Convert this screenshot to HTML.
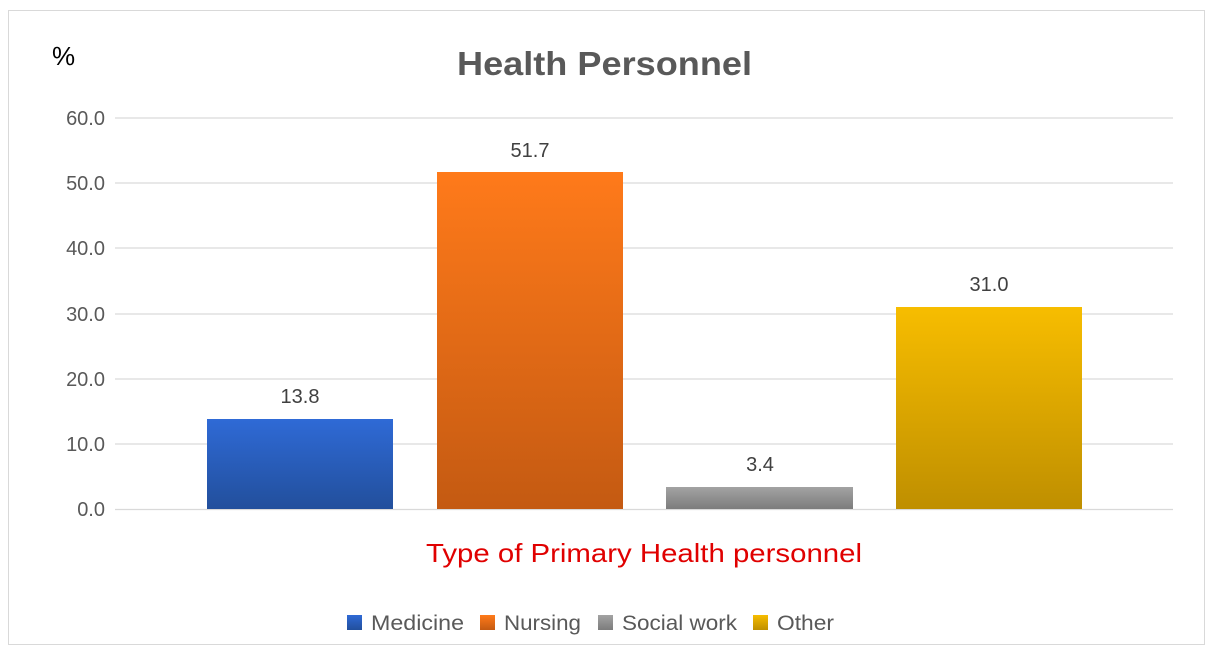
<!DOCTYPE html><html><head><style>body{margin:0;background:#fff}svg{display:block}text{font-family:"Liberation Sans",sans-serif}</style></head><body>
<svg width="1215" height="652" viewBox="0 0 1215 652">
<defs>
<linearGradient id="b" x1="0" y1="0" x2="0" y2="1"><stop offset="0" stop-color="#2f6ad6"/><stop offset="1" stop-color="#224f9c"/></linearGradient>
<linearGradient id="o" x1="0" y1="0" x2="0" y2="1"><stop offset="0" stop-color="#ff7a1a"/><stop offset="1" stop-color="#c45a12"/></linearGradient>
<linearGradient id="g" x1="0" y1="0" x2="0" y2="1"><stop offset="0" stop-color="#a3a3a3"/><stop offset="1" stop-color="#7c7c7c"/></linearGradient>
<linearGradient id="y" x1="0" y1="0" x2="0" y2="1"><stop offset="0" stop-color="#f7bd00"/><stop offset="1" stop-color="#bf8f00"/></linearGradient>
</defs>
<rect x="8.5" y="10.5" width="1196" height="634" fill="#fff" stroke="#d9d9d9"/>
<g stroke="#d9d9d9" stroke-width="1.3">
<line x1="115" x2="1173" y1="118" y2="118"/><line x1="115" x2="1173" y1="183" y2="183"/><line x1="115" x2="1173" y1="248" y2="248"/><line x1="115" x2="1173" y1="314" y2="314"/><line x1="115" x2="1173" y1="379" y2="379"/><line x1="115" x2="1173" y1="444" y2="444"/><line x1="115" x2="1173" y1="509.5" y2="509.5"/>
</g>
<g font-size="20" fill="#595959" text-anchor="end">
<text x="105" y="125">60.0</text><text x="105" y="190">50.0</text><text x="105" y="255">40.0</text><text x="105" y="321">30.0</text><text x="105" y="386">20.0</text><text x="105" y="451">10.0</text><text x="105" y="516">0.0</text>
</g>
<rect x="207" y="419" width="186" height="90" fill="url(#b)"/>
<rect x="437" y="172" width="186" height="337" fill="url(#o)"/>
<rect x="666" y="487" width="187" height="22" fill="url(#g)"/>
<rect x="896" y="307" width="186" height="202" fill="url(#y)"/>
<g font-size="20" fill="#404040" text-anchor="middle">
<text x="300" y="403">13.8</text><text x="530" y="157">51.7</text><text x="760" y="471">3.4</text><text x="989" y="291">31.0</text>
</g>
<text x="457" y="75" font-size="33" font-weight="bold" fill="#595959" textLength="295" lengthAdjust="spacingAndGlyphs">Health Personnel</text>
<text x="52" y="65" font-size="26" fill="#000">%</text>
<text x="426" y="562" font-size="26" fill="#e00000" textLength="436" lengthAdjust="spacingAndGlyphs">Type of Primary Health personnel</text>
<rect x="347" y="615" width="15" height="15" fill="url(#b)"/><text x="371" y="630" font-size="21" fill="#595959" textLength="93" lengthAdjust="spacingAndGlyphs">Medicine</text>
<rect x="480" y="615" width="15" height="15" fill="url(#o)"/><text x="504" y="630" font-size="21" fill="#595959" textLength="77" lengthAdjust="spacingAndGlyphs">Nursing</text>
<rect x="598" y="615" width="15" height="15" fill="url(#g)"/><text x="622" y="630" font-size="21" fill="#595959" textLength="115" lengthAdjust="spacingAndGlyphs">Social work</text>
<rect x="753" y="615" width="15" height="15" fill="url(#y)"/><text x="777" y="630" font-size="21" fill="#595959" textLength="57" lengthAdjust="spacingAndGlyphs">Other</text>
</svg></body></html>
